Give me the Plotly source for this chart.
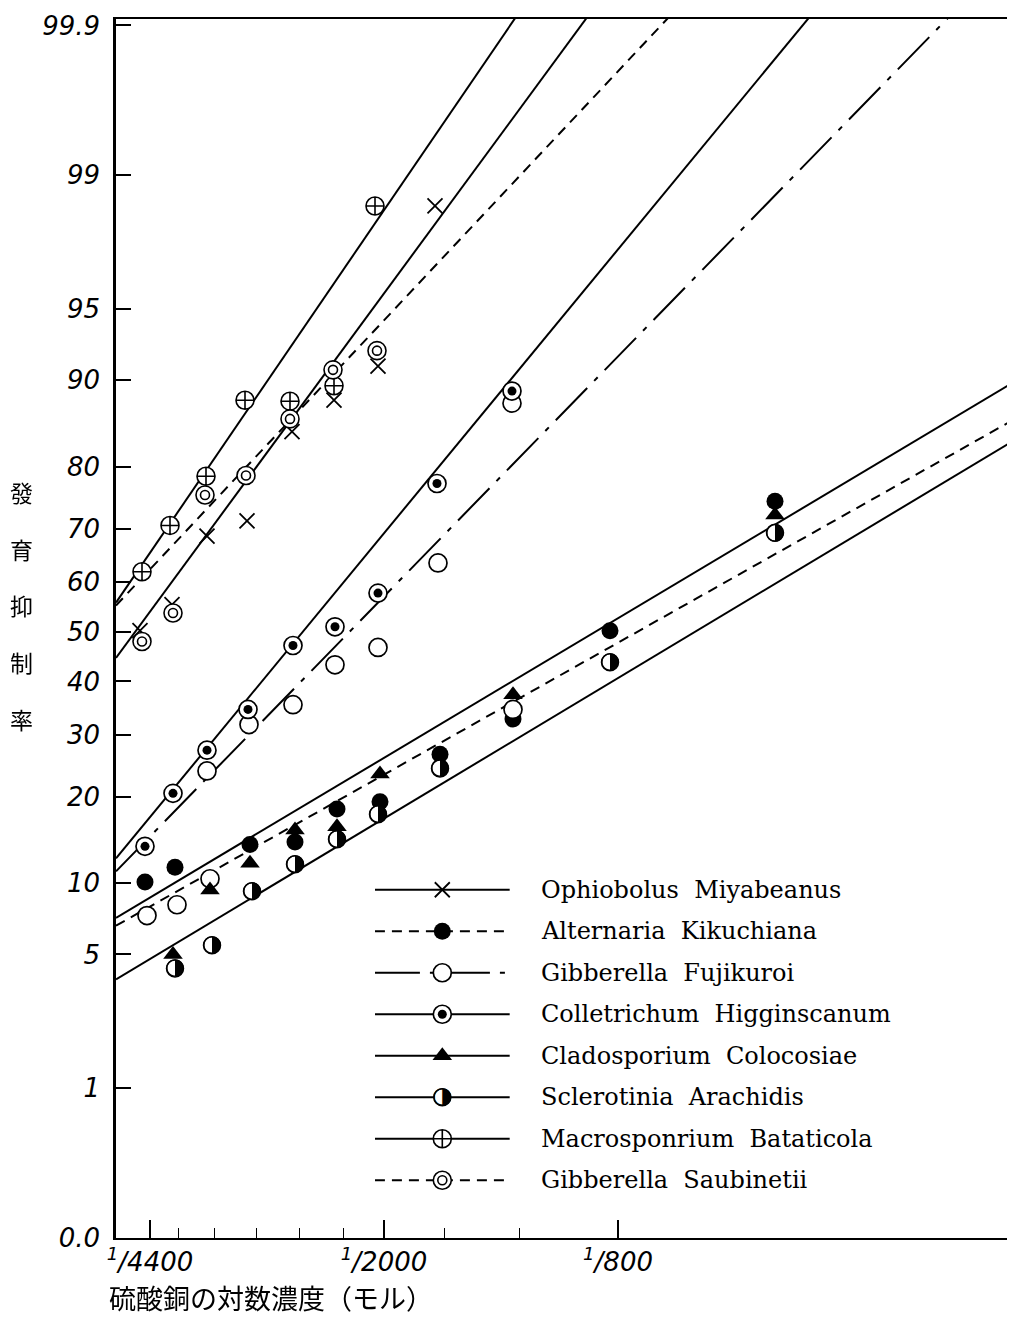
import plotly.graph_objects as go
from statistics import NormalDist

_nd = NormalDist()


def probit(p):
    return _nd.inv_cdf(p / 100.0)


# ---------------- axis ticks ----------------
# x: position along the (log) copper-sulphate concentration axis (axis units)
conc_minor_pos = [34, 62, 98, 140, 183, 227, 268, 328, 403, 502]
conc_major_pos = [34, 268, 502]
conc_major_labels = ["<sup>1</sup>/4400", "<sup>1</sup>/2000", "<sup>1</sup>/800"]

pct_ticks = [0.1, 1, 5, 10, 20, 30, 40, 50, 60, 70, 80, 90, 95, 99, 99.9]
pct_labels = ["0.0", "1", "5", "10", "20", "30", "40", "50", "60", "70",
              "80", "90", "95", "99", "99.9"]

# ---------------- observed points (x position, inhibition %) ----------------
oph_x = [24, 56, 91, 131, 176, 218, 262, 319]
oph_y = [50.2, 55.5, 68.7, 71.4, 84.6, 88.1, 91.2, 98.5]

alt_x = [29, 59, 134, 179, 221, 264, 324, 397, 494, 659]
alt_y = [10.1, 11.5, 13.9, 14.2, 18.3, 19.3, 26.6, 32.8, 50.2, 74.7]

fuj_x = [91, 133, 177, 219, 262, 322, 396, 31, 61, 94, 397]
fuj_y = [23.9, 31.8, 35.5, 43.3, 46.8, 63.7, 87.8, 7.4, 8.2, 10.4, 34.6]

col_x = [29, 57, 91, 132, 177, 219, 262, 321, 396]
col_y = [13.7, 20.5, 27.3, 34.6, 47.2, 51.0, 57.8, 77.5, 89.0]

cla_x = [57, 94, 134, 179, 221, 264, 397, 659]
cla_y = [5.0, 9.4, 11.9, 15.6, 16.0, 23.4, 37.4, 72.4]

scl_x = [59, 96, 136, 179, 221, 262, 324, 494, 659]
scl_y = [4.3, 5.5, 9.3, 11.8, 14.5, 17.6, 24.3, 43.8, 69.3]

mac_x = [26, 54, 90, 129, 174, 218, 259]
mac_y = [62.0, 70.6, 78.6, 88.1, 88.0, 89.5, 98.5]

sau_x = [26, 57, 89, 130, 174, 217, 261]
sau_y = [48.0, 53.8, 75.7, 78.7, 86.1, 90.9, 92.4]

# ---------------- fitted lines (two end points each) ----------------
oph_fit_x, oph_fit_y = [0, 494], [44.7, 99.95]
alt_fit_x, alt_fit_y = [0, 899], [6.7, 86.1]
fuj_fit_x, fuj_fit_y = [0, 863], [11.1, 99.95]
col_fit_x, col_fit_y = [0, 719], [12.4, 99.95]
cla_fit_x, cla_fit_y = [0, 899], [7.24, 89.9]
scl_fit_x, scl_fit_y = [0, 899], [3.82, 83.6]
mac_fit_x, mac_fit_y = [0, 421], [55.9, 99.95]
sau_fit_x, sau_fit_y = [0, 582], [55.3, 99.95]

species_names = [
    "Ophiobolus\u00a0 Miyabeanus",
    "Alternaria\u00a0 Kikuchiana",
    "Gibberella\u00a0 Fujikuroi",
    "Colletrichum\u00a0 Higginscanum",
    "Cladosporium\u00a0 Colocosiae",
    "Sclerotinia\u00a0 Arachidis",
    "Macrosponrium\u00a0 Bataticola",
    "Gibberella\u00a0 Saubinetii",
]
marker_kinds = ["x", "filled", "open", "dotted", "triangle", "half", "plus", "double"]
dash_styles = ["solid", "10px,7px", "45px,10px,5px,10px", "solid",
               "solid", "solid", "solid", "10px,7px"]

points = [(oph_x, oph_y), (alt_x, alt_y), (fuj_x, fuj_y), (col_x, col_y),
          (cla_x, cla_y), (scl_x, scl_y), (mac_x, mac_y), (sau_x, sau_y)]
fits = [(oph_fit_x, oph_fit_y), (alt_fit_x, alt_fit_y), (fuj_fit_x, fuj_fit_y),
        (col_fit_x, col_fit_y), (cla_fit_x, cla_fit_y), (scl_fit_x, scl_fit_y),
        (mac_fit_x, mac_fit_y), (sau_fit_x, sau_fit_y)]

BLACK = "black"
fig = go.Figure()


def marker_traces(kind, xs, ys, xaxis="x", yaxis="y"):
    """Return scatter traces that draw the given marker kind at xs, ys."""
    common = dict(x=xs, y=ys, xaxis=xaxis, yaxis=yaxis, showlegend=False,
                  hoverinfo="skip", cliponaxis=False)
    out = []
    if kind == "x":
        out.append(go.Scatter(mode="markers", marker=dict(
            symbol="x-thin-open", size=15, color=BLACK,
            line=dict(color=BLACK, width=1.8)), **common))
    elif kind == "filled":
        out.append(go.Scatter(mode="markers", marker=dict(
            symbol="circle", size=17, color=BLACK, line=dict(width=0)), **common))
    elif kind == "open":
        out.append(go.Scatter(mode="markers", marker=dict(
            symbol="circle", size=18, color="white", line=dict(color=BLACK, width=1.7)), **common))
    elif kind == "dotted":
        out.append(go.Scatter(mode="markers", marker=dict(
            symbol="circle", size=18, color="white", line=dict(color=BLACK, width=1.7)), **common))
        out.append(go.Scatter(mode="markers", marker=dict(
            symbol="circle", size=9, color=BLACK, line=dict(width=0)), **common))
    elif kind == "triangle":
        out.append(go.Scatter(mode="markers", marker=dict(
            symbol="triangle-up", size=17, color=BLACK, line=dict(width=0)), **common))
    elif kind == "half":
        out.append(go.Scatter(mode="markers", marker=dict(
            symbol="circle", size=17, color="white", line=dict(color=BLACK, width=1.5)), **common))
        out.append(go.Scatter(mode="text", text=["\u25d1"] * len(xs),
                              textposition="middle center", opacity=0.99,
                              textfont=dict(family="DejaVu Sans", size=23, color=BLACK),
                              **common))
    elif kind == "plus":
        out.append(go.Scatter(mode="markers", marker=dict(
            symbol="circle-cross", size=18, color="white", line=dict(color=BLACK, width=1.6)), **common))
    elif kind == "double":
        out.append(go.Scatter(mode="markers", marker=dict(
            symbol="circle", size=18, color="white", line=dict(color=BLACK, width=1.6)), **common))
        out.append(go.Scatter(mode="markers", marker=dict(
            symbol="circle-open", size=9, color=BLACK, line=dict(color=BLACK, width=1.6)), **common))
    return out


# fitted lines
for (fx, fy), dash in zip(fits, dash_styles):
    fig.add_trace(go.Scatter(x=fx, y=[probit(v) for v in fy], mode="lines",
                             line=dict(color=BLACK, width=2, dash=dash),
                             showlegend=False, hoverinfo="skip"))

# observed points
for (px, py), kind in zip(points, marker_kinds):
    for tr in marker_traces(kind, px, [probit(v) for v in py]):
        fig.add_trace(tr)

# ---------------- hand-made legend (own small axes) ----------------
legend_rows = list(range(len(species_names)))
swatch_len = 135
for row, dash, kind in zip(legend_rows, dash_styles, marker_kinds):
    fig.add_trace(go.Scatter(x=[0, swatch_len], y=[row, row], xaxis="x2", yaxis="y2",
                             mode="lines", line=dict(color=BLACK, width=2, dash=dash),
                             showlegend=False, hoverinfo="skip"))
    for tr in marker_traces(kind, [swatch_len / 2], [row], xaxis="x2", yaxis="y2"):
        fig.add_trace(tr)

annotations = []
for row, name in zip(legend_rows, species_names):
    annotations.append(dict(x=164, y=row, xref="x2", yref="y2", text=name,
                            showarrow=False, xanchor="left", yanchor="middle",
                            font=dict(family="DejaVu Serif", size=24, color=BLACK)))

# y-axis title, vertical characters
ytitle_chars = ["發", "育", "抑", "制", "率"]
for i, ch in enumerate(ytitle_chars):
    annotations.append(dict(x=-0.105, y=0.612 - i * 0.0465, xref="paper", yref="paper",
                            text=ch, showarrow=False, xanchor="center", yanchor="middle",
                            font=dict(family="Noto Sans CJK JP", size=23, color=BLACK)))

annotations.append(dict(x=-0.010, y=-0.049, xref="paper", yref="paper",
                        text="硫酸銅の対数濃度（モル）", showarrow=False,
                        xanchor="left", yanchor="middle",
                        font=dict(family="Noto Sans CJK JP", size=27, color=BLACK)))

tickfont = dict(family="DejaVu Sans", size=26, color=BLACK, style="italic")

fig.update_layout(
    width=1007, height=1313,
    margin=dict(l=108, r=0, t=11, b=83),
    paper_bgcolor="white", plot_bgcolor="white",
    showlegend=False,
    annotations=annotations,
    xaxis=dict(range=[0, 899], showgrid=False, zeroline=False,
               showline=True, linecolor=BLACK, linewidth=2, mirror=True,
               ticks="inside", tickvals=conc_major_pos, ticktext=conc_major_labels,
               ticklen=18, tickwidth=1.6, tickcolor=BLACK, tickfont=tickfont,
               minor=dict(tickmode="array", tickvals=conc_minor_pos, ticks="inside",
                          ticklen=10, tickwidth=1.3, tickcolor=BLACK)),
    yaxis=dict(range=[probit(0.1), 3.123], showgrid=False, zeroline=False,
               showline=True, linecolor=BLACK, linewidth=2.5,
               ticks="inside", tickvals=[probit(p) for p in pct_ticks],
               ticktext=pct_labels, ticklen=15, tickwidth=1.6, tickcolor=BLACK,
               tickfont=tickfont, ticklabelstandoff=8),
    xaxis2=dict(domain=[0.288, 0.871], range=[0, 525], visible=False, anchor="y2",
                fixedrange=True),
    yaxis2=dict(domain=[0.0304, 0.3027], range=[7.5, -0.5], visible=False, anchor="x2",
                fixedrange=True),
)

fig.write_html("out.html")
